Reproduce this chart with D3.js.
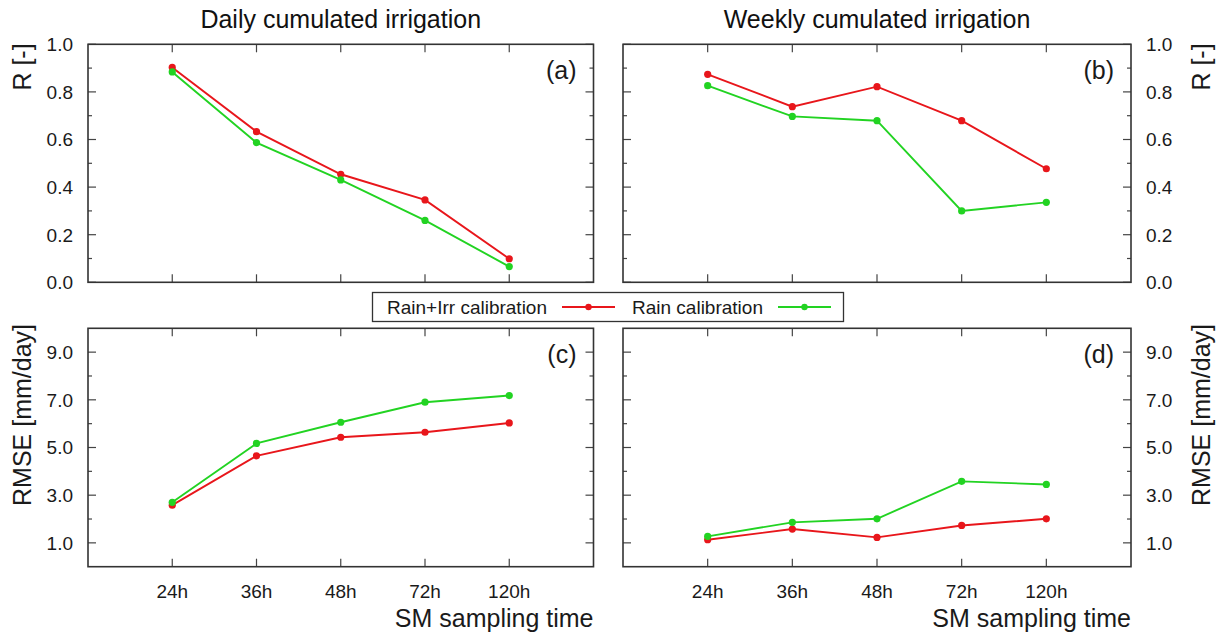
<!DOCTYPE html>
<html>
<head>
<meta charset="utf-8">
<script src="https://cdn.jsdelivr.net/npm/d3@7"></script>
<style>
  html, body { margin: 0; padding: 0; background: #fff; }
  svg { display: block; font-family: "Liberation Sans", Arial, sans-serif; }
</style>
</head>
<body>
<svg id="chart" width="1220" height="637"></svg>
<script>
// Sampling times on the shared x axis
const times = ["24h", "36h", "48h", "72h", "120h"];

// Correlation R, daily cumulated irrigation
const rDailyRainIrr = [0.903, 0.633, 0.454, 0.346, 0.099];
const rDailyRain    = [0.884, 0.587, 0.430, 0.260, 0.066];

// Correlation R, weekly cumulated irrigation
const rWeeklyRainIrr = [0.874, 0.738, 0.822, 0.679, 0.477];
const rWeeklyRain    = [0.826, 0.697, 0.679, 0.300, 0.336];

// RMSE [mm/day], daily cumulated irrigation
const rmseDailyRainIrr = [2.58, 4.65, 5.43, 5.64, 6.03];
const rmseDailyRain    = [2.70, 5.17, 6.06, 6.90, 7.18];

// RMSE [mm/day], weekly cumulated irrigation
const rmseWeeklyRainIrr = [1.13, 1.58, 1.23, 1.73, 2.01];
const rmseWeeklyRain    = [1.27, 1.86, 2.01, 3.58, 3.45];

// Axis ticks
const rTickLabels = ["0.0", "0.2", "0.4", "0.6", "0.8", "1.0"];
const rMinorTicks = [0.1, 0.3, 0.5, 0.7, 0.9];
const rmseTickLabels = ["1.0", "3.0", "5.0", "7.0", "9.0"];
const rmseMinorTicks = [2, 4, 6, 8];

const seriesNames = ["Rain+Irr calibration", "Rain calibration"];
const seriesColors = ["#e8161b", "#22d322"];

const columnTitles = ["Daily cumulated irrigation", "Weekly cumulated irrigation"];

const svg = d3.select("#chart");
const frameColor = "#333";
const tickColor = "#444";
const textColor = "#1a1a1a";

const cols = [{ x0: 88, x1: 593.5 }, { x0: 623, x1: 1131 }];
const rows = [{ y0: 44.3, y1: 282.3 }, { y0: 328.3, y1: 566.7 }];

const panels = [
  { col: 0, row: 0, tag: "(a)", series: [rDailyRainIrr, rDailyRain], kind: "r" },
  { col: 1, row: 0, tag: "(b)", series: [rWeeklyRainIrr, rWeeklyRain], kind: "r" },
  { col: 0, row: 1, tag: "(c)", series: [rmseDailyRainIrr, rmseDailyRain], kind: "rmse" },
  { col: 1, row: 1, tag: "(d)", series: [rmseWeeklyRainIrr, rmseWeeklyRain], kind: "rmse" }
];

panels.forEach(p => {
  const c = cols[p.col], r = rows[p.row];
  const x = d3.scalePoint().domain(times).range([c.x0, c.x1]).padding(1);
  const isR = p.kind === "r";
  const y = d3.scaleLinear().domain(isR ? [0, 1] : [0, 10]).range([r.y1, r.y0]);
  const majors = (isR ? rTickLabels : rmseTickLabels).map(Number);
  const minors = isR ? rMinorTicks : rmseMinorTicks;
  const labels = isR ? rTickLabels : rmseTickLabels;
  const g = svg.append("g");

  // Inward tick marks on all four sides (mirrored)
  const tickG = g.append("g").attr("stroke", tickColor).attr("stroke-width", 1.2);
  majors.concat(minors).forEach(v => {
    const len = majors.includes(v) ? 8 : 4;
    const yy = y(v);
    tickG.append("line").attr("x1", c.x0).attr("x2", c.x0 + len).attr("y1", yy).attr("y2", yy);
    tickG.append("line").attr("x1", c.x1).attr("x2", c.x1 - len).attr("y1", yy).attr("y2", yy);
  });
  times.forEach(t => {
    const xx = x(t);
    tickG.append("line").attr("x1", xx).attr("x2", xx).attr("y1", r.y1).attr("y2", r.y1 - 8);
    tickG.append("line").attr("x1", xx).attr("x2", xx).attr("y1", r.y0).attr("y2", r.y0 + 8);
  });

  // Frame
  g.append("rect")
    .attr("x", c.x0).attr("y", r.y0)
    .attr("width", c.x1 - c.x0).attr("height", r.y1 - r.y0)
    .attr("fill", "none").attr("stroke", frameColor).attr("stroke-width", 1.6);

  // Y tick labels: left column on the left, right column on the right
  const left = p.col === 0;
  g.selectAll("text.ytl").data(labels).join("text")
    .attr("class", "ytl")
    .attr("x", left ? c.x0 - 15 : c.x1 + 15)
    .attr("y", d => y(+d))
    .attr("dy", "0.36em")
    .attr("text-anchor", left ? "end" : "start")
    .attr("font-size", 19).attr("fill", textColor)
    .text(d => d);

  // X tick labels on the bottom row
  if (p.row === 1) {
    g.selectAll("text.xtl").data(times).join("text")
      .attr("class", "xtl")
      .attr("x", d => x(d)).attr("y", 598)
      .attr("text-anchor", "middle")
      .attr("font-size", 19).attr("fill", textColor)
      .text(d => d);
    g.append("text")
      .attr("x", c.x1).attr("y", 627)
      .attr("text-anchor", "end")
      .attr("font-size", 25).attr("fill", textColor)
      .text("SM sampling time");
  }

  // Y axis title
  const ylab = isR ? "R [-]" : "RMSE [mm/day]";
  const ycx = left ? 22 : 1201;
  const ycy = isR ? 67 : 415;
  g.append("text")
    .attr("transform", `translate(${ycx},${ycy}) rotate(-90)`)
    .attr("text-anchor", "middle").attr("dy", "0.36em")
    .attr("font-size", 25).attr("fill", textColor)
    .text(ylab);

  // Panel tag
  g.append("text")
    .attr("x", c.x1 - 17).attr("y", r.y0 + 35)
    .attr("text-anchor", "end")
    .attr("font-size", 25).attr("fill", textColor)
    .text(p.tag);

  // Series lines with point markers; later series drawn on top
  const line = d3.line().x((d, i) => x(times[i])).y(d => y(d));
  p.series.forEach((vals, si) => {
    g.append("path").datum(vals)
      .attr("d", line)
      .attr("fill", "none")
      .attr("stroke", seriesColors[si])
      .attr("stroke-width", 1.9);
    g.selectAll(null).data(vals).join("circle")
      .attr("cx", (d, i) => x(times[i])).attr("cy", d => y(d))
      .attr("r", 3.6).attr("fill", seriesColors[si]);
  });
});

// Column titles
columnTitles.forEach((t, i) => {
  svg.append("text")
    .attr("x", (cols[i].x0 + cols[i].x1) / 2).attr("y", 28)
    .attr("text-anchor", "middle")
    .attr("font-size", 25).attr("fill", "#111")
    .text(t);
});

// Legend box between the rows
const legend = svg.append("g");
legend.append("rect")
  .attr("x", 372.5).attr("y", 292.5).attr("width", 471).attr("height", 29)
  .attr("fill", "#fff").attr("stroke", frameColor).attr("stroke-width", 1.3);
const legendItems = [
  { textX: 387, lineX0: 562, lineX1: 615 },
  { textX: 632, lineX0: 778, lineX1: 831 }
];
legendItems.forEach((it, i) => {
  legend.append("text")
    .attr("x", it.textX).attr("y", 314)
    .attr("font-size", 19).attr("fill", textColor)
    .text(seriesNames[i]);
  legend.append("line")
    .attr("x1", it.lineX0).attr("x2", it.lineX1).attr("y1", 307).attr("y2", 307)
    .attr("stroke", seriesColors[i]).attr("stroke-width", 1.9);
  legend.append("circle")
    .attr("cx", (it.lineX0 + it.lineX1) / 2).attr("cy", 307)
    .attr("r", 3.2).attr("fill", seriesColors[i]);
});
</script>
</body>
</html>
